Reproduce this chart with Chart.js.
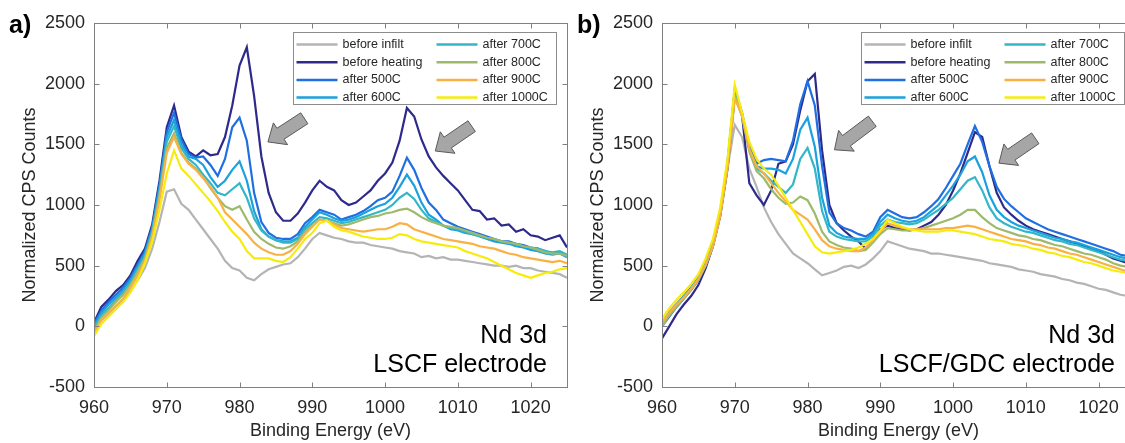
<!DOCTYPE html>
<html>
<head>
<meta charset="utf-8">
<title>Nd 3d spectra</title>
<script src="https://cdn.jsdelivr.net/npm/chart.js@4.4.1/dist/chart.umd.min.js"></script>
<style>
  html, body { margin: 0; padding: 0; background: #fff; overflow: hidden; }
  body { width: 1125px; height: 443px; position: relative; }
  canvas { position: absolute; top: 0; }
  #chartA { left: 0; }
  #chartB { left: 568px; }
</style>
</head>
<body>
<canvas id="chartA" width="580" height="443"></canvas>
<canvas id="chartB" width="580" height="443"></canvas>
<script>
// binding energy axis (eV)
var energy = [960, 961, 962, 963, 964, 965, 966, 967, 968, 969,
              970, 971, 972, 973, 974, 975, 976, 977, 978, 979,
              980, 981, 982, 983, 984, 985, 986, 987, 988, 989,
              990, 991, 992, 993, 994, 995, 996, 997, 998, 999,
              1000, 1001, 1002, 1003, 1004, 1005, 1006, 1007, 1008, 1009,
              1010, 1011, 1012, 1013, 1014, 1015, 1016, 1017, 1018, 1019,
              1020, 1021, 1022, 1023, 1024, 1025];

var seriesLabels = ['before infilt', 'before heating', 'after 500C', 'after 600C',
                    'after 700C', 'after 800C', 'after 900C', 'after 1000C'];
var seriesColors = ['#b4b4b4', '#2d2a8c', '#1f6fe2', '#1ba1dd',
                    '#33b7c8', '#9dba6c', '#f9b044', '#f6ec0c'];

var xTickValues = [960, 970, 980, 990, 1000, 1010, 1020];
var yTickValues = [-500, 0, 500, 1000, 1500, 2000, 2500];

// a) LSCF electrode
var lscfBeforeInfilt = [-30, 50, 100, 160, 210, 290, 380, 480, 640, 860,
  1110, 1130, 1010, 960, 880, 800, 720, 640, 540, 480,
  460, 400, 380, 430, 470, 490, 510, 520, 570, 640,
  720, 770, 750, 730, 720, 700, 690, 690, 670, 660,
  650, 640, 620, 610, 600, 570, 580, 560, 570, 550,
  550, 540, 530, 520, 510, 500, 500, 490, 500, 480,
  480, 460, 450, 440, 430, 400];
var lscfBeforeHeating = [30, 160, 220, 290, 340, 420, 540, 640, 840, 1200,
  1640, 1820, 1560, 1440, 1400, 1450, 1410, 1420, 1560, 1820,
  2150, 2300, 1900, 1400, 1100, 940, 870, 870, 930, 1020,
  1120, 1200, 1150, 1120, 1040, 1000, 1020, 1070, 1120, 1200,
  1260, 1350, 1530, 1800, 1730, 1540, 1400, 1310, 1240, 1180,
  1120, 1040, 960, 950, 880, 890, 830, 840, 780, 800,
  750, 740, 710, 730, 750, 650];
var lscf500 = [20, 130, 200, 260, 320, 400, 510, 620, 820, 1170,
  1600, 1760, 1540, 1420, 1390, 1400, 1330, 1240, 1380, 1640,
  1720, 1530, 1100, 860, 770, 730, 720, 720, 760, 850,
  900, 960, 940, 920, 880, 900, 920, 950, 990, 1040,
  1060, 1110, 1240, 1390, 1290, 1140, 1020, 960, 880, 850,
  820, 800, 780, 760, 740, 720, 700, 700, 680, 670,
  650, 640, 620, 600, 610, 580];
var lscf600 = [0, 110, 180, 240, 300, 380, 490, 600, 800, 1140,
  1560, 1700, 1500, 1400, 1380, 1330, 1230, 1150, 1200, 1290,
  1360, 1200, 950, 800, 740, 710, 700, 700, 730, 820,
  880, 940, 920, 890, 870, 880, 900, 930, 960, 990,
  1010, 1060, 1150, 1250, 1160, 1020, 920, 880, 830, 800,
  790, 770, 760, 740, 720, 700, 690, 680, 660, 650,
  630, 620, 600, 590, 600, 570];
var lscf700 = [-20, 90, 150, 220, 280, 360, 470, 580, 780, 1110,
  1520, 1650, 1470, 1380, 1330, 1250, 1180, 1100, 1080, 1130,
  1180, 1060, 890, 790, 740, 710, 690, 690, 720, 800,
  850, 900, 890, 870, 850, 860, 880, 900, 920, 940,
  960, 1000, 1060, 1100, 1050, 960, 890, 860, 830, 810,
  800, 780, 760, 750, 730, 720, 700, 690, 680, 660,
  650, 640, 620, 610, 620, 590];
var lscf800 = [-40, 70, 130, 200, 260, 340, 450, 560, 760, 1080,
  1470, 1590, 1430, 1350, 1300, 1230, 1140, 1060, 990, 960,
  990, 880, 780, 720, 680, 650, 640, 660, 700, 780,
  830, 880, 870, 850, 830, 840, 860, 880, 900, 910,
  930, 940, 960, 970, 940, 900, 870, 850, 830, 820,
  810, 790, 770, 750, 730, 720, 700, 690, 680, 660,
  650, 630, 610, 600, 600, 580];
var lscf900 = [-60, 50, 110, 170, 230, 320, 420, 540, 740, 1040,
  1430, 1560, 1420, 1340, 1290, 1220, 1150, 1060, 940, 880,
  820, 760, 690, 640, 610, 590, 590, 620, 680, 760,
  820, 880, 870, 840, 810, 800, 790, 780, 790, 800,
  800, 820, 850, 840, 800, 780, 760, 740, 720, 710,
  700, 690, 680, 660, 650, 640, 620, 600, 590, 570,
  560, 550, 540, 530, 540, 520];
var lscf1000 = [-80, 20, 80, 140, 200, 280, 380, 520, 700, 960,
  1260, 1450, 1300, 1240, 1170, 1100, 1030, 950, 860, 780,
  720, 620, 560, 560, 560, 540, 530, 570, 640, 720,
  770, 850, 870, 820, 790, 780, 760, 740, 730, 720,
  720, 730, 760, 750, 720, 700, 690, 680, 670, 660,
  650, 620, 600, 580, 560, 530, 500, 470, 440, 420,
  400, 420, 440, 450, 470, 480];

// b) LSCF/GDC electrode
var gdcBeforeInfilt = [40, 120, 190, 250, 320, 400, 520, 680, 930, 1300,
  1660, 1560, 1300, 1150, 980, 860, 760, 680, 600, 560,
  520, 470, 420, 440, 460, 490, 500, 480, 510, 560,
  620, 700, 680, 660, 640, 630, 620, 600, 600, 590,
  580, 570, 560, 550, 540, 520, 510, 500, 490, 470,
  460, 450, 430, 420, 410, 390, 380, 360, 350, 330,
  310, 300, 280, 260, 250, 230];
var gdcBeforeHeating = [-100, 0, 100, 180, 250, 340, 480, 660, 910, 1300,
  1900, 1740, 1180, 1080, 1000, 1120, 1340, 1360, 1500, 1780,
  2020, 2080, 1450, 1000, 850, 790, 740, 700, 640, 700,
  800, 830, 810, 800, 790, 800, 830, 860, 920, 1000,
  1120, 1260, 1430, 1600, 1560, 1320, 1100, 980, 920, 870,
  830, 800, 780, 760, 740, 720, 700, 680, 660, 640,
  620, 590, 560, 540, 520, 500];
var gdc500 = [0, 80, 160, 230, 300, 380, 500, 660, 920, 1330,
  1950, 1760, 1480, 1340, 1370, 1380, 1370, 1360, 1530, 1830,
  2020, 1820, 1320, 940, 850, 810, 790, 760, 740, 780,
  900, 960, 930, 900, 890, 900, 940, 990, 1050, 1140,
  1240, 1340, 1500, 1650, 1520, 1320, 1150, 1050, 990, 940,
  890, 860, 830, 800, 780, 760, 740, 720, 700, 680,
  660, 640, 620, 590, 580, 550];
var gdc600 = [20, 110, 180, 250, 320, 400, 520, 680, 940, 1350,
  1950, 1750, 1470, 1320, 1300, 1300, 1290, 1260, 1380, 1620,
  1720, 1480, 1060, 830, 770, 740, 730, 720, 720, 760,
  860, 920, 890, 870, 860, 870, 900, 950, 1000, 1080,
  1160, 1250, 1360, 1400, 1270, 1080, 960, 900, 860, 830,
  810, 790, 770, 750, 730, 720, 700, 690, 670, 650,
  630, 610, 590, 570, 560, 530];
var gdc700 = [10, 100, 170, 240, 310, 390, 510, 670, 930, 1340,
  1930, 1740, 1460, 1300, 1260, 1200, 1150, 1100, 1170, 1380,
  1470, 1300, 950, 780, 740, 720, 710, 700, 700, 740,
  830, 880, 860, 850, 840, 850, 880, 920, 960, 1010,
  1060, 1130, 1200, 1230, 1120, 980, 890, 850, 820, 800,
  780, 770, 750, 730, 710, 700, 680, 670, 650, 630,
  610, 590, 570, 550, 540, 510];
var gdc800 = [0, 90, 160, 230, 300, 380, 500, 660, 920, 1320,
  1900, 1730, 1440, 1280, 1220, 1130, 1060, 1010, 1020, 1070,
  1040, 930, 780, 700, 670, 650, 640, 620, 630, 690,
  760, 810, 800, 790, 790, 800, 810, 830, 850, 870,
  890, 920, 960, 960, 900, 850, 810, 790, 770, 750,
  740, 720, 710, 690, 670, 660, 640, 620, 600, 590,
  570, 550, 520, 500, 490, 460];
var gdc900 = [30, 110, 180, 240, 310, 390, 510, 660, 910, 1300,
  1880, 1740, 1460, 1320, 1260, 1180, 1100, 1030, 960, 920,
  880, 800, 710, 660, 640, 630, 620, 620, 650, 710,
  780, 850, 830, 810, 800, 800, 800, 800, 800, 810,
  810, 820, 830, 820, 800, 780, 760, 740, 720, 710,
  700, 680, 670, 650, 640, 620, 600, 590, 570, 550,
  530, 510, 490, 470, 450, 420];
var gdc1000 = [60, 150, 220, 280, 350, 430, 560, 720, 980, 1380,
  1990, 1760, 1520, 1380, 1300, 1250, 1160, 1060, 960, 860,
  760, 660, 610, 600, 610, 620, 630, 650, 680, 720,
  790, 880, 850, 820, 800, 790, 780, 780, 780, 790,
  790, 780, 770, 760, 740, 720, 710, 700, 680, 670,
  660, 640, 630, 610, 600, 580, 570, 550, 530, 520,
  500, 480, 460, 450, 440, 420];

var fontFamily = "'Liberation Sans', Arial, Helvetica, sans-serif";
var ink = '#262626';

function drawArrow(ctx, tailX, tailY, tipX, tipY) {
    var dx = tipX - tailX, dy = tipY - tailY;
    var len = Math.hypot(dx, dy);
    var ux = dx / len, uy = dy / len;
    var nx = -uy, ny = ux;
    var headLen = 15, headHalf = 13, shaftHalf = 6.5;
    var bx = tipX - ux * headLen, by = tipY - uy * headLen;
    ctx.beginPath();
    ctx.moveTo(tailX + nx * shaftHalf, tailY + ny * shaftHalf);
    ctx.lineTo(bx + nx * shaftHalf, by + ny * shaftHalf);
    ctx.lineTo(bx + nx * headHalf, by + ny * headHalf);
    ctx.lineTo(tipX, tipY);
    ctx.lineTo(bx - nx * headHalf, by - ny * headHalf);
    ctx.lineTo(bx - nx * shaftHalf, by - ny * shaftHalf);
    ctx.lineTo(tailX - nx * shaftHalf, tailY - ny * shaftHalf);
    ctx.closePath();
    ctx.fillStyle = '#a6a6a6';
    ctx.fill();
    ctx.strokeStyle = '#5a5a5a';
    ctx.lineWidth = 1;
    ctx.stroke();
}

// box, inward ticks, two-column legend, arrows and sample text
var matlabLook = {
    id: 'matlabLook',
    afterDatasetsDraw: function (chart, args, opts) {
        var ctx = chart.ctx;
        var area = chart.chartArea;
        var xs = chart.scales.x, ys = chart.scales.y;
        ctx.save();

        opts.arrows.forEach(function (ar) {
            drawArrow(ctx, xs.getPixelForValue(ar[2]), ys.getPixelForValue(ar[3]),
                xs.getPixelForValue(ar[0]), ys.getPixelForValue(ar[1]));
        });

        var L = Math.round(area.left) + 0.5, R = Math.round(area.right) + 0.5;
        var T = Math.round(area.top) + 0.5, B = Math.round(area.bottom) + 0.5;
        ctx.strokeStyle = '#808080';
        ctx.lineWidth = 1;
        ctx.strokeRect(L, T, R - L, B - T);
        ctx.beginPath();
        xTickValues.forEach(function (v) {
            var px = Math.round(xs.getPixelForValue(v)) + 0.5;
            ctx.moveTo(px, B); ctx.lineTo(px, B - 5);
            ctx.moveTo(px, T); ctx.lineTo(px, T + 5);
        });
        yTickValues.forEach(function (v) {
            var py = Math.round(ys.getPixelForValue(v)) + 0.5;
            ctx.moveTo(L, py); ctx.lineTo(L + 5, py);
            ctx.moveTo(R, py); ctx.lineTo(R - 5, py);
        });
        ctx.stroke();

        // legend
        var lx = Math.round(area.left + 199) + 0.5, ly = Math.round(area.top + 9) + 0.5;
        ctx.fillStyle = '#fff';
        ctx.fillRect(lx, ly, 263, 72);
        ctx.strokeStyle = '#8c8c8c';
        ctx.lineWidth = 1;
        ctx.strokeRect(lx, ly, 263, 72);
        ctx.font = '12.5px ' + fontFamily;
        ctx.textBaseline = 'middle';
        ctx.textAlign = 'left';
        chart.data.datasets.forEach(function (ds, i) {
            var col = i < 4 ? 0 : 1;
            var y = ly + 12 + (i % 4) * 17.7;
            var x0 = lx + (col ? 143 : 3);
            ctx.strokeStyle = ds.borderColor;
            ctx.lineWidth = 2.5;
            ctx.beginPath();
            ctx.moveTo(x0, y);
            ctx.lineTo(x0 + 41, y);
            ctx.stroke();
            ctx.fillStyle = ink;
            ctx.fillText(ds.label, x0 + 46, y);
        });

        ctx.fillStyle = '#000';
        ctx.font = '25px ' + fontFamily;
        ctx.textAlign = 'right';
        ctx.textBaseline = 'alphabetic';
        ctx.fillText(opts.lines[0], area.right - 20, 343);
        ctx.fillText(opts.lines[1], area.right - 20, 372);

        ctx.textAlign = 'left';
        ctx.font = 'bold 25px ' + fontFamily;
        ctx.fillText(opts.tag, 9, 33);
        ctx.restore();
    }
};

function plainNumber(v) { return String(v); }

function buildChart(canvasId, series, opts) {
    var datasets = series.map(function (values, i) {
        return {
            label: seriesLabels[i],
            data: energy.map(function (e, j) { return { x: e, y: values[j] }; }),
            borderColor: seriesColors[i],
            borderWidth: 2.2,
            pointRadius: 0,
            tension: 0,
            fill: false,
            order: series.length - i
        };
    });
    var tickFont = { family: fontFamily, size: 18 };
    return new Chart(document.getElementById(canvasId), {
        type: 'line',
        data: { datasets: datasets },
        options: {
            responsive: false,
            animation: false,
            events: [],
            layout: { padding: { left: 0, right: 13, top: 23, bottom: 0 } },
            plugins: {
                legend: { display: false },
                tooltip: { enabled: false },
                matlabLook: opts
            },
            scales: {
                x: {
                    type: 'linear', min: 960, max: 1025,
                    afterBuildTicks: function (s) { s.ticks = xTickValues.map(function (v) { return { value: v }; }); },
                    afterFit: function (s) { s.height = 56; },
                    grid: { display: false, drawTicks: false },
                    border: { display: false },
                    ticks: { color: ink, font: tickFont, padding: 10, maxRotation: 0, callback: plainNumber },
                    title: { display: true, text: 'Binding Energy (eV)', color: ink, font: tickFont, padding: { top: 0, bottom: 1 } }
                },
                y: {
                    type: 'linear', min: -500, max: 2500,
                    afterBuildTicks: function (s) { s.ticks = yTickValues.map(function (v) { return { value: v }; }); },
                    afterFit: function (s) { s.width = 94; },
                    grid: { display: false, drawTicks: false },
                    border: { display: false },
                    ticks: { color: ink, font: tickFont, padding: 9, callback: plainNumber },
                    title: { display: true, text: 'Normalized CPS Counts', color: ink, font: tickFont, padding: { top: 19, bottom: 0 } }
                }
            }
        },
        plugins: [matlabLook]
    });
}

buildChart('chartA',
    [lscfBeforeInfilt, lscfBeforeHeating, lscf500, lscf600, lscf700, lscf800, lscf900, lscf1000],
    {
        tag: 'a)',
        lines: ['Nd 3d', 'LSCF electrode'],
        arrows: [[983.9, 1520, 988.9, 1715], [1006.9, 1445, 1011.9, 1650]]
    });

buildChart('chartB',
    [gdcBeforeInfilt, gdcBeforeHeating, gdc500, gdc600, gdc700, gdc800, gdc900, gdc1000],
    {
        tag: 'b)',
        lines: ['Nd 3d', 'LSCF/GDC electrode'],
        arrows: [[983.7, 1455, 988.9, 1690], [1006.3, 1345, 1011.3, 1550]]
    });
</script>
</body>
</html>
